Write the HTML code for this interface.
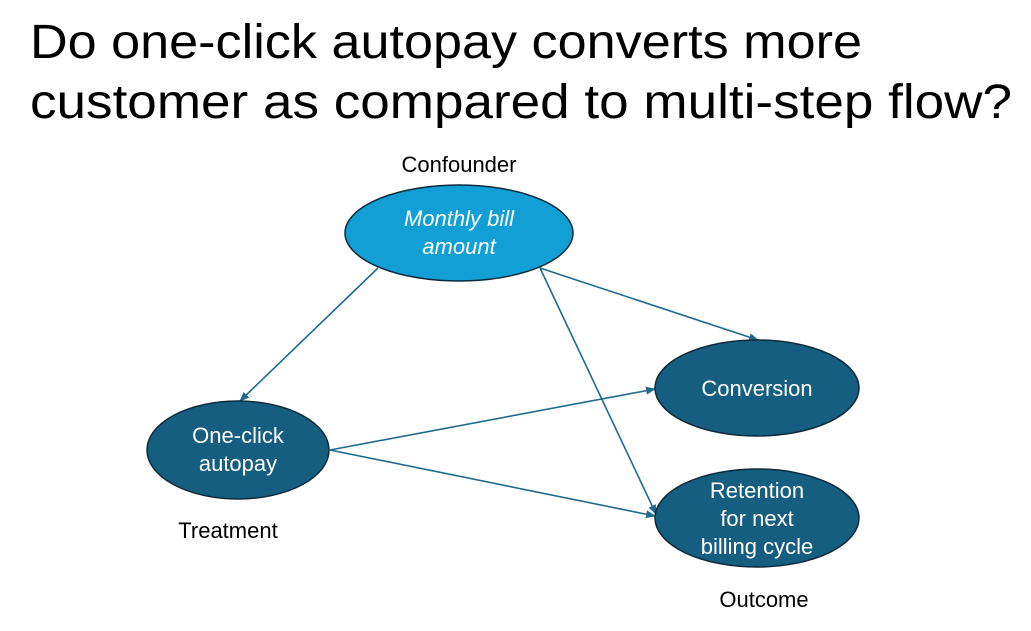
<!DOCTYPE html>
<html><head><meta charset="utf-8"><style>
body{margin:0;background:#fff;width:1031px;height:631px;overflow:hidden;font-family:"Liberation Sans",sans-serif}
</style></head><body>
<svg width="1031" height="631" xmlns="http://www.w3.org/2000/svg" style="position:absolute;left:0;top:0">
<defs><marker id="a" markerWidth="10" markerHeight="8" refX="9" refY="4" orient="auto" markerUnits="userSpaceOnUse"><path d="M0,0 L10,4 L0,8 Z" fill="#1f6a8e"/></marker></defs>
<text x="30" y="58" font-size="48" fill="#000" textLength="832" lengthAdjust="spacingAndGlyphs" font-family="Liberation Sans,sans-serif">Do one-click autopay converts more</text>
<text x="30" y="118" font-size="48" fill="#000" textLength="982" lengthAdjust="spacingAndGlyphs" font-family="Liberation Sans,sans-serif">customer as compared to multi-step flow?</text>
<g stroke="#1f6a8e" stroke-width="1.6" fill="none">
<line x1="378" y1="268" x2="240" y2="401" marker-end="url(#a)"/>
<line x1="540" y1="268" x2="758" y2="340" marker-end="url(#a)"/>
<line x1="540" y1="268" x2="656" y2="514" marker-end="url(#a)"/>
<line x1="330" y1="450" x2="655" y2="389" marker-end="url(#a)"/>
<line x1="330" y1="450" x2="655" y2="516" marker-end="url(#a)"/>
</g>
<ellipse cx="459" cy="233" rx="114" ry="48" fill="#119fd5" stroke="#0d2a3a" stroke-width="1.5"/>
<ellipse cx="238" cy="450" rx="91" ry="49" fill="#165e80" stroke="#0d2a3a" stroke-width="1.5"/>
<ellipse cx="757" cy="388" rx="102" ry="48" fill="#165e80" stroke="#0d2a3a" stroke-width="1.5"/>
<ellipse cx="757" cy="518" rx="102" ry="49" fill="#165e80" stroke="#0d2a3a" stroke-width="1.5"/>
<g fill="#fff" font-size="22" text-anchor="middle" font-family="Liberation Sans,sans-serif">
<text x="459" y="226" font-style="italic">Monthly bill</text>
<text x="459" y="254" font-style="italic">amount</text>
<text x="238" y="443">One-click</text>
<text x="238" y="471">autopay</text>
<text x="757" y="396">Conversion</text>
<text x="757" y="498">Retention</text>
<text x="757" y="526">for next</text>
<text x="757" y="554">billing cycle</text>
</g>
<g fill="#000" font-size="22" text-anchor="middle" font-family="Liberation Sans,sans-serif">
<text x="459" y="172">Confounder</text>
<text x="228" y="538">Treatment</text>
<text x="764" y="607">Outcome</text>
</g>
</svg>
</body></html>
